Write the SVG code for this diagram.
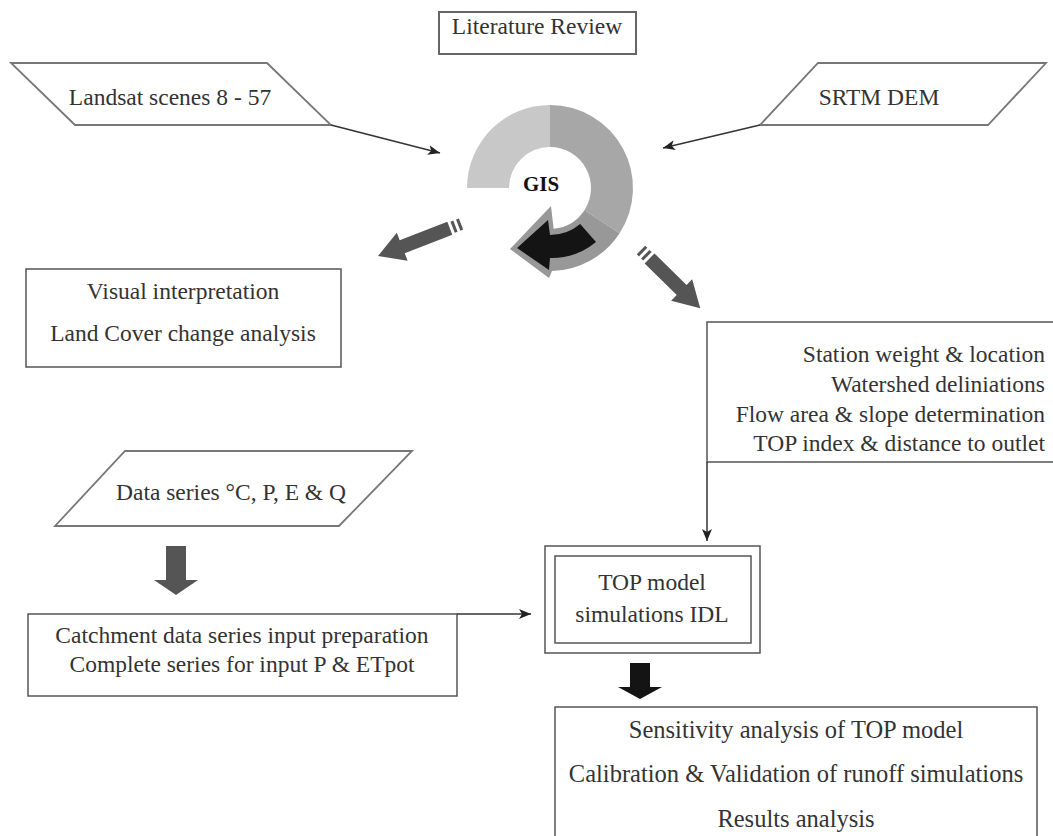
<svg xmlns="http://www.w3.org/2000/svg" width="1053" height="836" viewBox="0 0 1053 836">
<style>
text{font-family:"Liberation Serif","Times New Roman",serif;font-size:23.5px;fill:#333}
.c{text-anchor:middle}
.r{text-anchor:end}
.w{font-size:24.5px}
.box{fill:#fff;stroke:#555;stroke-width:1.5}
.lit{fill:#fff;stroke:#666;stroke-width:2}
.para{fill:#fff;stroke:#777;stroke-width:1.8}
.conn{fill:none;stroke:#333;stroke-width:1.5}
.big{fill:#555}
</style>
<defs>
<marker id="ah" markerUnits="userSpaceOnUse" markerWidth="14" markerHeight="12" refX="12" refY="5" orient="auto">
<path d="M0,0 L12,5 L0,10 L3,5 Z" fill="#222"/>
</marker>
</defs>

<g id="literature">
<rect class="lit" x="439" y="12" width="197" height="42"/>
<text class="c" x="537" y="34">Literature Review</text>
</g>

<g id="landsat">
<polygon class="para" points="11,63 267,63 331,125 75,125"/>
<text class="c" x="170" y="105">Landsat scenes 8 - 57</text>
</g>

<g id="srtm">
<polygon class="para" points="818,63 1046,63 988,125 760,125"/>
<text class="c" x="879" y="105">SRTM DEM</text>
</g>

<g id="gis">
<path d="M467,188 A83,83 0 0 1 550,105 L550,147 A41,41 0 0 0 509,188 Z" fill="#c8c8c8"/>
<path d="M550,105 A83,83 0 0 1 619.6,233.2 L584.4,210.3 A41,41 0 0 0 550,147 Z" fill="#a7a7a7"/>
<path d="M619.6,233.2 A83,83 0 0 1 552,271 L549,278 L510,249 L551,206 L553.6,228.8 A41,41 0 0 0 584.4,210.3 Z" fill="#989898"/>
<path d="M517,248 L548,220 L550,235 A47,47 0 0 0 580.2,224 L596,242 A70,70 0 0 1 550,258 L549,270 Z" fill="#141414"/>
<text x="541" y="191" class="c" style="font-weight:bold;font-size:21px;fill:#111">GIS</text>
</g>

<g id="big-arrows">
<g transform="translate(461,224) rotate(158.9)">
<rect class="big" x="0" y="-6" width="3" height="12"/>
<rect class="big" x="6" y="-6" width="3" height="12"/>
<path class="big" d="M12,-7 L63,-7 L63,-15 L89,0 L63,15 L63,7 L12,7 Z"/>
</g>
<g transform="translate(641,250) rotate(44.5)">
<rect class="big" x="0" y="-6" width="3" height="12"/>
<rect class="big" x="6" y="-6" width="3" height="12"/>
<path class="big" d="M12,-7 L57,-7 L57,-15 L83,0 L57,15 L57,7 L12,7 Z"/>
</g>
<path class="big" d="M166,546 L186,546 L186,580 L198,580 L176,595 L154,580 L166,580 Z"/>
<path d="M630,663 L650,663 L650,687 L662,687 L640,699 L618,687 L630,687 Z" fill="#141414"/>
</g>

<g id="visual">
<rect class="box" x="26" y="269" width="315" height="98"/>
<text class="c" x="183" y="299">Visual interpretation</text>
<text class="c" x="183" y="341">Land Cover change analysis</text>
</g>

<g id="gisprocess">
<rect class="box" x="707" y="322" width="360" height="140"/>
<text class="r" x="1045" y="362">Station weight &amp; location</text>
<text class="r" x="1045" y="392">Watershed deliniations</text>
<text class="r" x="1045" y="422">Flow area &amp; slope determination</text>
<text class="r" x="1045" y="451">TOP index &amp; distance to outlet</text>
</g>

<g id="dataseries">
<polygon class="para" points="125,451 412,451 339,526 55,526"/>
<text class="c" x="231" y="500">Data series °C, P, E &amp; Q</text>
</g>

<g id="catchment">
<rect class="box" x="28" y="614" width="429" height="82"/>
<text class="c" x="242" y="643">Catchment data series input preparation</text>
<text class="c" x="242" y="672">Complete series for input P &amp; ETpot</text>
</g>

<g id="topmodel">
<rect class="box" x="545" y="546" width="215" height="107"/>
<rect class="box" x="555" y="556" width="196" height="87"/>
<text class="c" x="652" y="590">TOP model</text>
<text class="c" x="652" y="622">simulations IDL</text>
</g>

<g id="results">
<rect class="box" x="555" y="707" width="482" height="140"/>
<text class="c w" x="796" y="738">Sensitivity analysis of TOP model</text>
<text class="c w" x="796" y="782">Calibration &amp; Validation of runoff simulations</text>
<text class="c w" x="796" y="827">Results analysis</text>
</g>

<g id="connectors">
<line class="conn" x1="331" y1="125" x2="440" y2="153" marker-end="url(#ah)"/>
<line class="conn" x1="760" y1="125" x2="663" y2="148" marker-end="url(#ah)"/>
<line class="conn" x1="707" y1="462" x2="707" y2="541" marker-end="url(#ah)"/>
<line class="conn" x1="457" y1="614" x2="531" y2="614" marker-end="url(#ah)"/>
</g>
</svg>
